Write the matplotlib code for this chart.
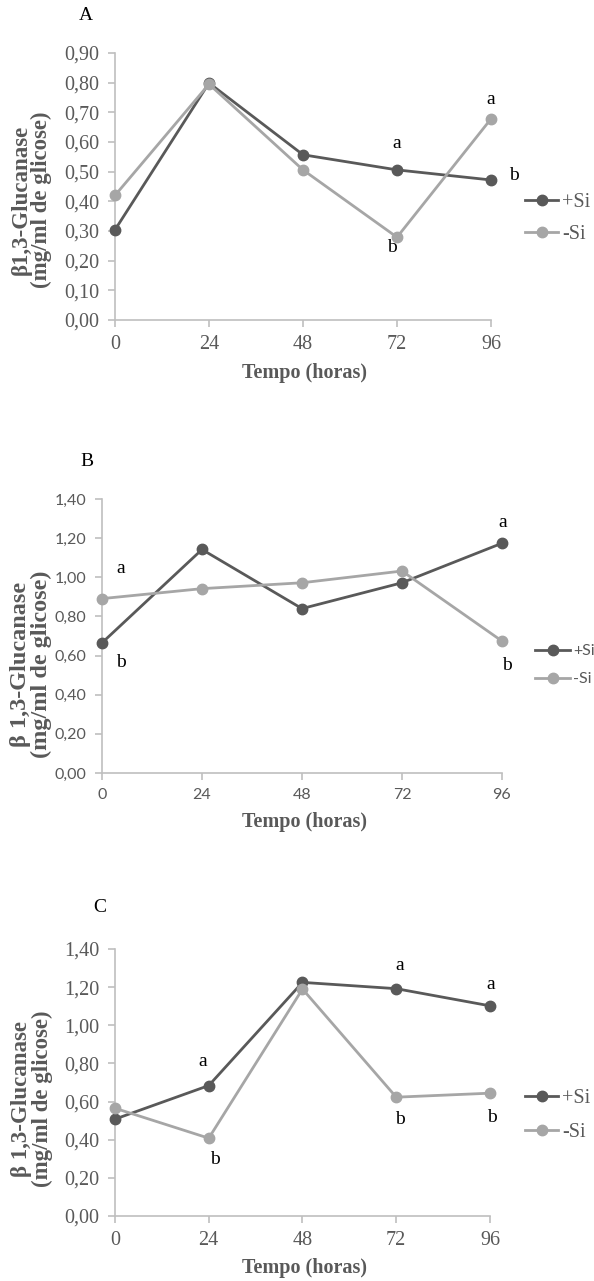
import matplotlib
matplotlib.use("Agg")
import matplotlib.pyplot as plt

W, H = 594, 1281
hours = [0, 24, 48, 72, 96]

# Panel A
a_plus = [0.304, 0.799, 0.557, 0.506, 0.472]
a_minus = [0.420, 0.795, 0.506, 0.279, 0.678]
a_letters = [("a", 72, 0.596), ("b", 70.7, 0.245), ("a", 96, 0.742), ("b", 101.8, 0.486)]
a_yticks = [0.0, 0.1, 0.2, 0.3, 0.4, 0.5, 0.6, 0.7, 0.8, 0.9]

# Panel B
b_plus = [0.665, 1.142, 0.840, 0.972, 1.174]
b_minus = [0.891, 0.942, 0.972, 1.032, 0.674]
b_letters = [("a", 4.6, 1.047), ("b", 4.6, 0.565), ("a", 96.2, 1.281), ("b", 97.1, 0.551)]
b_yticks = [0.0, 0.2, 0.4, 0.6, 0.8, 1.0, 1.2, 1.4]

# Panel C
c_plus = [0.508, 0.684, 1.225, 1.192, 1.102]
c_minus = [0.565, 0.408, 1.190, 0.623, 0.644]
c_letters = [("a", 22.4, 0.81), ("b", 25.5, 0.294), ("a", 72.9, 1.3125),
             ("b", 72.9, 0.504), ("a", 96.3, 1.216), ("b", 96.5, 0.516)]
c_yticks = [0.0, 0.2, 0.4, 0.6, 0.8, 1.0, 1.2, 1.4]

series_labels = ["+Si", "-Si"]

DARK = "#595959"
LIGHT = "#a6a6a6"
SPINE = "#bfbfbf"
SERIF = "Liberation Serif"
SANS = "Lato"

fig = plt.figure(figsize=(W / 100, H / 100), dpi=100)


def box(l, r, t, b):
    return [l / W, 1 - b / H, (r - l) / W, (b - t) / H]


def fmt(v):
    return f"{v:.2f}".replace(".", ",")


panels = [
    dict(rect=box(115, 491, 53, 320), plus=a_plus, minus=a_minus, letters=a_letters,
         yticks=a_yticks, ymax=0.9, tickfont=SERIF, ticksize=14.5, legfont=SERIF, legsize=14.5,
         label="A", labpos=(86, 16), ylab="β1,3-Glucanase\n(mg/ml de glicose)", ylabsize=16.5,
         ylabpos=(31, 200), xlabpos=(304, 373),
         leg=dict(x=525, top=203 - 10, hl=1.65, pad=0.2, ls=0.65)),
    dict(rect=box(102, 502, 499, 773), plus=b_plus, minus=b_minus, letters=b_letters,
         yticks=b_yticks, ymax=1.4, tickfont=SANS, ticksize=11.5, legfont=SANS, legsize=11.5,
         label="B", labpos=(87, 462), ylab="β 1,3-Glucanase\n(mg/ml de glicose)", ylabsize=17.5,
         ylabpos=(31, 664), xlabpos=(304, 822),
         leg=dict(x=535, top=652 - 8, hl=2.2, pad=0.2, ls=0.86)),
    dict(rect=box(115, 490, 949, 1216), plus=c_plus, minus=c_minus, letters=c_letters,
         yticks=c_yticks, ymax=1.4, tickfont=SERIF, ticksize=14.5, legfont=SERIF, legsize=14.5,
         label="C", labpos=(100, 908), ylab="β 1,3-Glucanase\n(mg/ml de glicose)", ylabsize=16.5,
         ylabpos=(32, 1099), xlabpos=(304, 1268),
         leg=dict(x=525, top=1099 - 10, hl=1.65, pad=0.2, ls=0.75)),
]

for p in panels:
    ax = fig.add_axes(p["rect"])
    l1, = ax.plot(hours, p["plus"], color=DARK, lw=2.0, marker="o", ms=7.5,
                  label=series_labels[0], clip_on=False, zorder=3)
    l2, = ax.plot(hours, p["minus"], color=LIGHT, lw=2.0, marker="o", ms=7.5,
                  label=series_labels[1], clip_on=False, zorder=3)
    ax.set_xlim(0, 96)
    ax.set_ylim(0, p["ymax"])
    ax.set_xticks(hours)
    ax.set_xticklabels([str(h) for h in hours])
    ax.set_yticks(p["yticks"])
    ax.set_yticklabels([fmt(v) for v in p["yticks"]])
    for s in ["top", "right"]:
        ax.spines[s].set_visible(False)
    for s in ["left", "bottom"]:
        ax.spines[s].set_color(SPINE)
        ax.spines[s].set_linewidth(1.2)
    ax.tick_params(axis="both", direction="out", length=5, width=1.2, color=SPINE,
                   labelcolor=DARK, labelsize=p["ticksize"], pad=6)
    for t in ax.get_xticklabels() + ax.get_yticklabels():
        t.set_fontfamily(p["tickfont"])
    for txt, x, y in p["letters"]:
        ax.text(x, y, txt, ha="center", va="center", fontsize=14, family=SERIF,
                color="black", clip_on=False)
    # legend
    lg = p["leg"]
    leg = fig.legend([l1, l2], series_labels, loc="upper left",
                     bbox_to_anchor=(lg["x"] / W, 1 - lg["top"] / H), frameon=False,
                     handlelength=lg["hl"], handletextpad=lg["pad"], labelspacing=lg["ls"],
                     borderaxespad=0, borderpad=0,
                     prop={"family": p["legfont"], "size": p["legsize"]})
    for t in leg.get_texts():
        t.set_color(DARK)
    # panel label
    fig.text(p["labpos"][0] / W, 1 - p["labpos"][1] / H, p["label"], ha="center",
             va="center", fontsize=14, family=SERIF, color="black")
    # axis labels
    fig.text(p["ylabpos"][0] / W, 1 - p["ylabpos"][1] / H, p["ylab"], rotation=90,
             ha="center", va="center", fontsize=p["ylabsize"], family=SERIF, weight="bold",
             color=DARK, linespacing=0.95, multialignment="center")
    fig.text(p["xlabpos"][0] / W, 1 - p["xlabpos"][1] / H, "Tempo (horas)",
             ha="center", va="center", fontsize=14.5, family=SERIF, weight="bold",
             color=DARK)

fig.savefig("out.png", dpi=100)
